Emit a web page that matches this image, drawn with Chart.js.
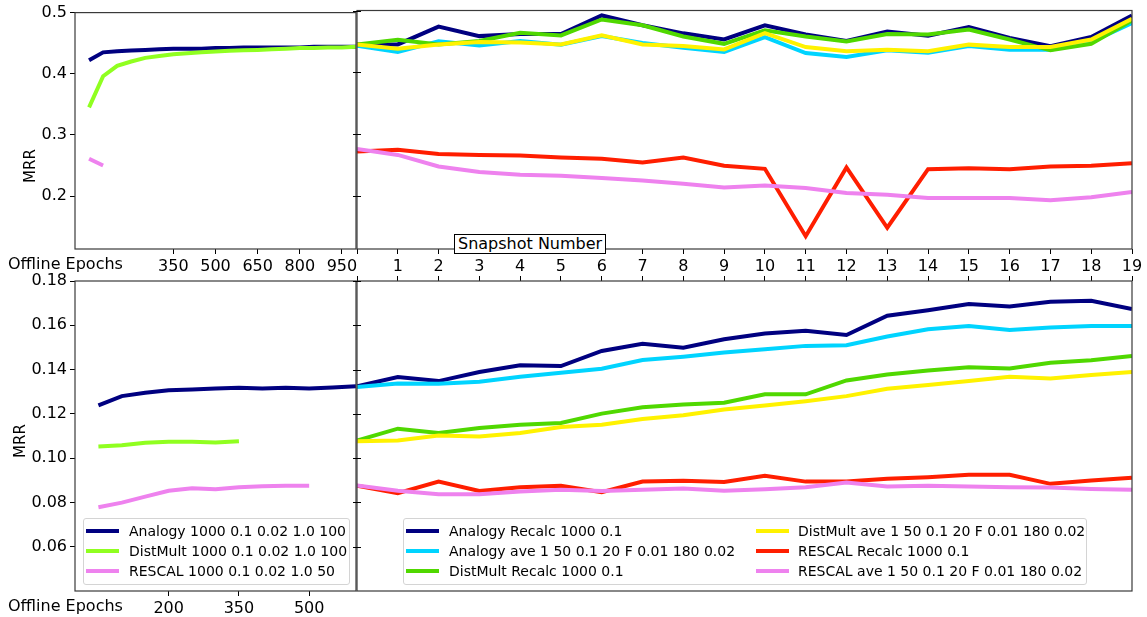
<!DOCTYPE html>
<html>
<head>
<meta charset="utf-8">
<script src="https://cdn.jsdelivr.net/npm/chart.js@4.4.1/dist/chart.umd.min.js"></script>
<style>
  html, body { margin: 0; padding: 0; background: #fff; }
  #stage { position: relative; width: 1147px; height: 617px; overflow: hidden; font-family: 'DejaVu Sans', sans-serif; }
  #stage canvas { position: absolute; left: 0; top: 0; }
  .txt { position: absolute; font-size: 16px; color: #000; white-space: nowrap; line-height: 1; }
  .ylab { position: absolute; font-size: 15px; transform: translate(-50%, -50%) rotate(-90deg); white-space: nowrap; }
  .boxlab { position: absolute; font-size: 16px; background: #fff; border: 1px solid #000; padding: 1px 3px 1px 3px; line-height: 1; white-space: nowrap; }
  .legend { position: absolute; background: rgba(255,255,255,0.85); border: 1px solid #d4d4d4; border-radius: 3px; font-size: 14px; }
  .legend .row { position: absolute; height: 20px; line-height: 20px; white-space: nowrap; }
  .legend .sw { position: absolute; top: 8px; height: 4px; width: 33px; }
  .legend .lt { position: absolute; top: 0; }
</style>
</head>
<body>
<div id="stage">
  <canvas id="tl" width="1147" height="617"></canvas>
  <canvas id="tr" width="1147" height="617"></canvas>
  <canvas id="bl" width="1147" height="617"></canvas>
  <canvas id="br" width="1147" height="617"></canvas>
</div>
<script>
// ---- data ----
const snapshots = [0, 1, 2, 3, 4, 5, 6, 7, 8, 9, 10, 11, 12, 13, 14, 15, 16, 17, 18, 19];

// top row (first dataset)
const topEpochs = [50, 100, 150, 200, 250, 300, 350, 400, 450, 500, 550, 600, 650, 700, 750, 800, 850, 900, 950, 1000];
const topAnalogyOffline = [0.422, 0.435, 0.437, 0.438, 0.439, 0.440, 0.441, 0.441, 0.441, 0.442, 0.442, 0.443, 0.443, 0.443, 0.443, 0.443, 0.444, 0.444, 0.444, 0.444];
const topDistMultOffline = [0.345, 0.396, 0.413, 0.420, 0.426, 0.429, 0.432, 0.4335, 0.435, 0.4366, 0.4375, 0.4385, 0.439, 0.440, 0.441, 0.442, 0.442, 0.443, 0.443, 0.444];
const topRescalEpochs = [50, 100];
const topRescalOffline = [0.261, 0.250];

const topAnalogyRecalc = [0.445, 0.445, 0.474, 0.4585, 0.462, 0.462, 0.492, 0.476, 0.463, 0.453, 0.476, 0.461, 0.4505, 0.466, 0.459, 0.473, 0.4555, 0.442, 0.457, 0.492];
const topAnalogyAve = [0.443, 0.433, 0.450, 0.4435, 0.4505, 0.4447, 0.4586, 0.4473, 0.4398, 0.4328, 0.457, 0.431, 0.4247, 0.4355, 0.4317, 0.4425, 0.4366, 0.4366, 0.449, 0.4795];
const topDistMultRecalc = [0.445, 0.4527, 0.445, 0.4505, 0.464, 0.4597, 0.4855, 0.476, 0.458, 0.446, 0.468, 0.458, 0.450, 0.462, 0.461, 0.469, 0.453, 0.4355, 0.446, 0.484];
const topDistMultAve = [0.445, 0.438, 0.445, 0.449, 0.448, 0.445, 0.4597, 0.445, 0.4425, 0.437, 0.4635, 0.4408, 0.4339, 0.4366, 0.434, 0.4447, 0.4408, 0.4408, 0.453, 0.4866];
const topRescalRecalc = [0.2715, 0.2742, 0.2677, 0.266, 0.265, 0.2618, 0.2597, 0.2537, 0.2618, 0.2484, 0.2435, 0.1344, 0.2457, 0.148, 0.243, 0.2446, 0.243, 0.2473, 0.2484, 0.2527];
const topRescalAve = [0.2758, 0.266, 0.2473, 0.2382, 0.2339, 0.2323, 0.2285, 0.2247, 0.2194, 0.2134, 0.2166, 0.2124, 0.2043, 0.2016, 0.1963, 0.1963, 0.1963, 0.1924, 0.1973, 0.206];

// bottom row (second dataset)
const botEpochs = [50, 100, 150, 200, 250, 300, 350, 400, 450, 500, 550, 600];
const botAnalogyOffline = [0.1238, 0.128, 0.1295, 0.1307, 0.131, 0.1315, 0.1318, 0.1315, 0.1318, 0.1315, 0.1319, 0.1325];
const botDistMultEpochs = [50, 100, 150, 200, 250, 300, 350];
const botDistMultOffline = [0.1053, 0.1058, 0.107, 0.1074, 0.1074, 0.1071, 0.1076];
const botRescalEpochs = [50, 100, 150, 200, 250, 300, 350, 400, 450, 500];
const botRescalOffline = [0.0778, 0.0799, 0.0826, 0.0853, 0.0864, 0.086, 0.0869, 0.0873, 0.0875, 0.0875];

const botAnalogyRecalc = [0.1325, 0.1366, 0.1348, 0.1389, 0.1419, 0.1416, 0.1484, 0.1517, 0.1499, 0.1537, 0.1563, 0.1575, 0.1556, 0.1643, 0.1668, 0.1696, 0.1685, 0.1706, 0.1711, 0.1673];
const botAnalogyAve = [0.1321, 0.1337, 0.1336, 0.1345, 0.1368, 0.1386, 0.1404, 0.1443, 0.1458, 0.1477, 0.1492, 0.1507, 0.151, 0.1549, 0.1582, 0.1597, 0.1579, 0.159, 0.1597, 0.1597];
const botDistMultRecalc = [0.1079, 0.1133, 0.1114, 0.1136, 0.1151, 0.1159, 0.1201, 0.123, 0.1242, 0.125, 0.1288, 0.1288, 0.1351, 0.1378, 0.1396, 0.1411, 0.1405, 0.1431, 0.1442, 0.1461];
const botDistMultAve = [0.1076, 0.108, 0.1102, 0.1098, 0.1114, 0.1141, 0.1151, 0.1177, 0.1194, 0.122, 0.1238, 0.1257, 0.128, 0.1313, 0.133, 0.1348, 0.1368, 0.136, 0.1375, 0.1389];
const botRescalRecalc = [0.0876, 0.0842, 0.0894, 0.0852, 0.0869, 0.0875, 0.0846, 0.0894, 0.0898, 0.0892, 0.092, 0.0894, 0.0894, 0.0907, 0.0914, 0.0925, 0.0925, 0.0884, 0.0899, 0.0912];
const botRescalAve = [0.0876, 0.0853, 0.0837, 0.0837, 0.0849, 0.0857, 0.0852, 0.0857, 0.0863, 0.0853, 0.086, 0.0869, 0.089, 0.0872, 0.0875, 0.0872, 0.0869, 0.0867, 0.0861, 0.0857];

// tick labels
const topEpochTicks = [350, 500, 650, 800, 950];
const botEpochTicks = [200, 350, 500];
const topMrrTicks = [0.2, 0.3, 0.4, 0.5];
const botMrrTicks = [0.06, 0.08, 0.10, 0.12, 0.14, 0.16, 0.18];

// legend labels
const offlineLabels = ['Analogy 1000 0.1 0.02 1.0 100', 'DistMult 1000 0.1 0.02 1.0 100', 'RESCAL 1000 0.1 0.02 1.0 50'];
const onlineLabels = ['Analogy Recalc 1000 0.1', 'Analogy ave 1 50 0.1 20 F 0.01 180 0.02', 'DistMult Recalc 1000 0.1',
                      'DistMult ave 1 50 0.1 20 F 0.01 180 0.02', 'RESCAL Recalc 1000 0.1', 'RESCAL ave 1 50 0.1 20 F 0.01 180 0.02'];

// ---- styling ----
const C = {
    navy: '#000080', chart: '#90ff20', green: '#50d800',
    cyan: '#00d4ff', yellow: '#fff200', red: '#ff1e00', violet: '#ee82ee'
};
const offlineColors = [C.navy, C.chart, C.violet];
const onlineColors = [C.navy, C.cyan, C.green, C.yellow, C.red, C.violet];

const W = 1147, H = 617;
const SPLIT_L = 356, SPLIT_R = 357, LEFT = 75, RIGHT = 1132;
const TOP_T = 10.5, TOP_B = 249, BOT_T = 281, BOT_B = 591;

Chart.defaults.font.family = "'DejaVu Sans', sans-serif";
Chart.defaults.font.size = 16;
Chart.defaults.color = '#000';

function pts(xs, ys) {
    return ys.map((y, i) => ({ x: xs[i], y: y }));
}

function lineSet(xs, ys, color, i) {
    return {
        data: pts(xs, ys),
        borderColor: color,
        borderWidth: 4,
        pointRadius: 0,
        tension: 0,
        fill: false,
        clip: 0,
        order: -i
    };
}

// draws the full axes frame, plus the short crossing ticks on the shared spine
const framePlugin = {
    id: 'frame',
    afterDraw(chart, args, opts) {
        const ctx = chart.ctx, a = chart.chartArea;
        ctx.save();
        ctx.strokeStyle = '#3a3a3a';
        ctx.lineWidth = 1.2;
        ctx.strokeRect(a.left, a.top, a.right - a.left, a.bottom - a.top);
        if (opts.crossTicks) {
            ctx.strokeStyle = '#000';
            ctx.lineWidth = 1;
            opts.crossTicks.forEach(v => {
                const y = Math.round(chart.scales.y.getPixelForValue(v)) + 0.5;
                ctx.beginPath();
                ctx.moveTo(a.left - 4, y);
                ctx.lineTo(a.left + 4, y);
                ctx.stroke();
            });
        }
        ctx.restore();
    }
};

function fixed(v) { return () => v; }

function makeChart(id, cfg) {
    const x = {
        type: 'linear',
        position: cfg.xPos || 'bottom',
        min: cfg.xMin, max: cfg.xMax,
        grid: { drawOnChartArea: false, drawTicks: true, tickLength: 5, color: '#000' },
        border: { display: false },
        ticks: {
            display: cfg.xLabels !== false,
            padding: 3,
            autoSkip: false,
            maxRotation: 0,
            callback: cfg.xFormat || (v => v)
        },
        afterFit: s => { s.height = cfg.xHeight; }
    };
    if (cfg.xTicks) {
        x.afterBuildTicks = s => { s.ticks = cfg.xTicks.map(v => ({ value: v })); };
    } else {
        x.ticks.stepSize = 1;
    }
    const y = {
        type: 'linear',
        min: cfg.yMin, max: cfg.yMax,
        grid: { display: cfg.yLabels, drawOnChartArea: false, drawTicks: true, tickLength: 5, color: '#000' },
        border: { display: false },
        ticks: { display: cfg.yLabels, padding: 3, callback: cfg.yFormat },
        afterBuildTicks: s => { s.ticks = cfg.yTicks.map(v => ({ value: v })); },
        afterFit: s => { s.width = cfg.left; }
    };
    return new Chart(document.getElementById(id), {
        type: 'line',
        data: { datasets: cfg.datasets },
        options: {
            responsive: false,
            animation: false,
            events: [],
            devicePixelRatio: 1,
            layout: { padding: { left: 0, right: W - cfg.right, top: cfg.padTop, bottom: cfg.padBottom } },
            scales: { x: x, y: y },
            plugins: {
                legend: { display: false },
                tooltip: { enabled: false },
                frame: { crossTicks: cfg.crossTicks || null }
            }
        },
        plugins: [framePlugin]
    });
}

// top-left: offline epochs, first dataset
makeChart('tl', {
    left: LEFT, right: SPLIT_L, padTop: TOP_T, padBottom: 0, xHeight: H - TOP_B,
    xMin: 0, xMax: 1000, xTicks: topEpochTicks,
    yMin: 0.1136, yMax: 0.5, yTicks: topMrrTicks, yLabels: true, yFormat: v => v.toFixed(1),
    datasets: [
        lineSet(topEpochs, topAnalogyOffline, offlineColors[0], 0),
        lineSet(topEpochs, topDistMultOffline, offlineColors[1], 1),
        lineSet(topRescalEpochs, topRescalOffline, offlineColors[2], 2)
    ]
});

// top-right: snapshots, first dataset
const topOnline = [topAnalogyRecalc, topAnalogyAve, topDistMultRecalc, topDistMultAve, topRescalRecalc, topRescalAve];
makeChart('tr', {
    left: SPLIT_R, right: RIGHT, padTop: TOP_T, padBottom: 0, xHeight: H - TOP_B,
    xMin: 0, xMax: 19, xFormat: v => (v === 0 ? '' : v),
    yMin: 0.1136, yMax: 0.5, yTicks: topMrrTicks, yLabels: false, crossTicks: topMrrTicks,
    datasets: topOnline.map((s, i) => lineSet(snapshots, s, onlineColors[i], i))
});

// bottom-left: offline epochs, second dataset
makeChart('bl', {
    left: LEFT, right: SPLIT_L, padTop: BOT_T, padBottom: 0, xHeight: H - BOT_B,
    xMin: 0, xMax: 600, xTicks: botEpochTicks,
    yMin: 0.04, yMax: 0.18, yTicks: botMrrTicks, yLabels: true, yFormat: v => v.toFixed(2),
    datasets: [
        lineSet(botEpochs, botAnalogyOffline, offlineColors[0], 0),
        lineSet(botDistMultEpochs, botDistMultOffline, offlineColors[1], 1),
        lineSet(botRescalEpochs, botRescalOffline, offlineColors[2], 2)
    ]
});

// bottom-right: snapshots, second dataset (ticks on the top spine, no labels)
const botOnline = [botAnalogyRecalc, botAnalogyAve, botDistMultRecalc, botDistMultAve, botRescalRecalc, botRescalAve];
makeChart('br', {
    left: SPLIT_R, right: RIGHT, padTop: 0, padBottom: H - BOT_B, xHeight: BOT_T,
    xPos: 'top', xLabels: false,
    xMin: 0, xMax: 19,
    yMin: 0.04, yMax: 0.18, yTicks: botMrrTicks, yLabels: false, crossTicks: botMrrTicks,
    datasets: botOnline.map((s, i) => lineSet(snapshots, s, onlineColors[i], i))
});

// ---- text outside the plot areas ----
const stage = document.getElementById('stage');
function addDiv(cls, text, css) {
    const d = document.createElement('div');
    d.className = cls;
    d.textContent = text;
    Object.assign(d.style, css);
    stage.appendChild(d);
    return d;
}
addDiv('txt', 'Offline Epochs', { left: '8px', top: '256px' });
addDiv('txt', 'Offline Epochs', { left: '8px', top: '598px' });
addDiv('ylab', 'MRR', { left: '30px', top: '166px' });
addDiv('ylab', 'MRR', { left: '20px', top: '441px' });
addDiv('boxlab', 'Snapshot Number', { left: '454px', top: '234px' });

function legend(box, labels, colors, cols) {
    const lg = addDiv('legend', '', box);
    labels.forEach((lab, i) => {
        const c = cols[Math.floor(i / 3)];
        const row = document.createElement('div');
        row.className = 'row';
        row.style.left = c.sw + 'px';
        row.style.top = (2 + (i % 3) * 20) + 'px';
        const sw = document.createElement('div');
        sw.className = 'sw';
        sw.style.left = '0px';
        sw.style.background = colors[i];
        const t = document.createElement('div');
        t.className = 'lt';
        t.style.left = (c.tx - c.sw) + 'px';
        t.textContent = lab;
        row.appendChild(sw);
        row.appendChild(t);
        lg.appendChild(row);
    });
}
legend({ left: '83px', top: '518px', width: '265px', height: '65px' }, offlineLabels, offlineColors,
       [{ sw: 2, tx: 45 }]);
legend({ left: '403px', top: '518px', width: '682px', height: '65px' }, onlineLabels, onlineColors,
       [{ sw: 2, tx: 45 }, { sw: 352, tx: 394 }]);
</script>
</body>
</html>
